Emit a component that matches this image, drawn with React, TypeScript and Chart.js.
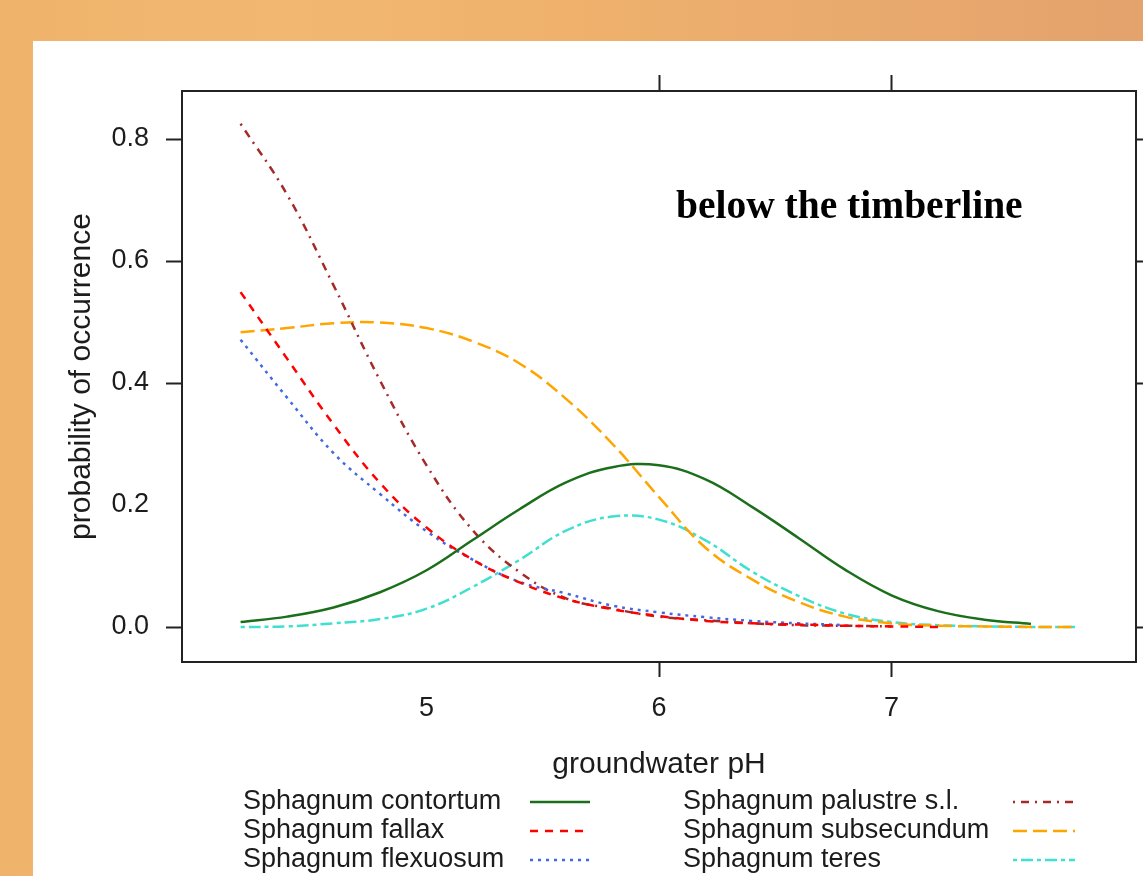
import { useEffect, useRef } from "react";
import { Chart, registerables } from "chart.js";

Chart.register(...registerables);

// ---- data ----
const phValues = [4.2, 4.4, 4.6, 4.8, 5.0, 5.2, 5.4, 5.6, 5.8, 6.0, 6.2, 6.4, 6.6, 6.8, 7.0, 7.2, 7.4, 7.6, 7.8];

const contortum = [0.008, 0.017, 0.032, 0.057, 0.093, 0.143, 0.193, 0.237, 0.262, 0.265, 0.242, 0.197, 0.146, 0.094, 0.052, 0.026, 0.012, 0.005, null];
const fallax = [0.549, 0.44, 0.332, 0.236, 0.163, 0.11, 0.073, 0.046, 0.029, 0.018, 0.01, 0.006, 0.004, 0.002, 0.001, 0, null, null, null];
const flexuosum = [0.471, 0.376, 0.285, 0.218, 0.157, 0.11, 0.074, 0.055, 0.035, 0.024, 0.016, 0.01, 0.006, 0.003, null, null, null, null, null];
const palustre = [0.825, 0.709, 0.56, 0.404, 0.265, 0.158, 0.09, 0.047, 0.03, 0.017, 0.011, 0.006, 0.003, 0.002, 0.001, null, null, null, null];
const subsecundum = [0.483, 0.49, 0.498, 0.499, 0.49, 0.468, 0.432, 0.374, 0.3, 0.213, 0.13, 0.078, 0.041, 0.017, 0.006, 0.002, 0.001, 0, 0];
const teres = [0, 0.001, 0.006, 0.013, 0.03, 0.066, 0.11, 0.158, 0.181, 0.176, 0.142, 0.091, 0.051, 0.022, 0.008, 0.003, 0.001, 0, 0];

const seriesLabels = [
  "Sphagnum contortum",
  "Sphagnum fallax",
  "Sphagnum flexuosum",
  "Sphagnum palustre s.l.",
  "Sphagnum subsecundum",
  "Sphagnum teres",
];

const xTicks = [5, 6, 7];
const yTicks = [0, 0.2, 0.4, 0.6, 0.8];
const xTickMarks = [6, 7];
const yTickMarks = [0, 0.4, 0.6, 0.8];

const xTitle = "groundwater pH";
const yTitle = "probability of occurrence";
const annotationText = "below the timberline";
const annotationX = 6.073;
const annotationY = 0.67;

// ---- styles ----
const FONT = "'Liberation Sans', Arial, sans-serif";
const TEXT = "#1c1c1c";
const colors = ["#1b6f1b", "#ff0000", "#4169e1", "#a52a2a", "#ffa500", "#40e0d0"];
const dashes: number[][] = [[], [8, 7], [3, 5], [2, 6, 8, 6], [14, 6], [4, 4, 12, 4]];

const seriesValues = [contortum, fallax, flexuosum, palustre, subsecundum, teres];

const framePlugin = {
  id: "frame",
  afterDraw(chart: any) {
    const { ctx, chartArea: a, scales } = chart;
    const xs = scales.x;
    const ys = scales.y;
    ctx.save();
    ctx.strokeStyle = "#222";
    ctx.lineWidth = 2;
    ctx.strokeRect(a.left, a.top, a.right - a.left, a.bottom - a.top);
    const tl = 16;
    ctx.beginPath();
    xTickMarks.forEach((v) => {
      const px = Math.round(xs.getPixelForValue(v)) + 0.5;
      ctx.moveTo(px, a.top);
      ctx.lineTo(px, a.top - tl);
      ctx.moveTo(px, a.bottom);
      ctx.lineTo(px, a.bottom + tl - 1);
    });
    yTickMarks.forEach((v) => {
      const py = Math.round(ys.getPixelForValue(v)) + 0.5;
      ctx.moveTo(a.left, py);
      ctx.lineTo(a.left - tl, py);
      ctx.moveTo(a.right, py);
      ctx.lineTo(a.right + tl, py);
    });
    ctx.stroke();

    // annotation
    ctx.fillStyle = "#000";
    ctx.font = "bold 39.5px 'Liberation Serif', 'Times New Roman', serif";
    ctx.textAlign = "left";
    ctx.textBaseline = "alphabetic";
    ctx.fillText(annotationText, xs.getPixelForValue(annotationX), ys.getPixelForValue(annotationY));

    // legend (two columns, text then line sample)
    ctx.font = `27px ${FONT}`;
    ctx.textBaseline = "middle";
    const colText = [243, 683];
    const colLine = [[530, 590], [1013, 1075]];
    const rowY = [802, 831, 860];
    chart.data.datasets.forEach((ds: any, i: number) => {
      const c = Math.floor(i / 3);
      const r = i % 3;
      ctx.fillStyle = TEXT;
      ctx.fillText(ds.label, colText[c], rowY[r]);
      ctx.strokeStyle = ds.borderColor;
      ctx.lineWidth = ds.borderWidth;
      ctx.setLineDash(ds.borderDash || []);
      ctx.beginPath();
      ctx.moveTo(colLine[c][0], rowY[r]);
      ctx.lineTo(colLine[c][1], rowY[r]);
      ctx.stroke();
      ctx.setLineDash([]);
    });
    ctx.restore();
  },
};

export default function App() {
  const ref = useRef<HTMLCanvasElement>(null);
  useEffect(() => {
    const datasets = seriesLabels.map((label, i) => ({
      label,
      data: phValues.map((x, j) => ({ x, y: seriesValues[i][j] })),
      borderColor: colors[i],
      backgroundColor: colors[i],
      borderWidth: 2.5,
      borderDash: dashes[i],
      pointRadius: 0,
      fill: false,
      tension: 0.4,
      spanGaps: false,
    }));
    const chart = new Chart(ref.current!, {
      type: "line",
      data: { datasets },
      options: {
        responsive: false,
        animation: false,
        devicePixelRatio: 1,
        layout: { padding: { left: 0, top: 91, right: 7, bottom: 0 } },
        plugins: { legend: { display: false }, tooltip: { enabled: false } },
        scales: {
          x: {
            type: "linear",
            position: "bottom",
            min: 3.948,
            max: 8.052,
            grid: { display: false, drawTicks: false },
            border: { display: false },
            afterBuildTicks: (s: any) => {
              s.ticks = xTicks.map((v) => ({ value: v }));
            },
            afterFit: (s: any) => {
              s.height = 214;
            },
            ticks: {
              autoSkip: false,
              maxRotation: 0,
              padding: 30,
              color: TEXT,
              font: { family: FONT, size: 27 },
              callback: (v: any) => String(v),
            },
            title: {
              display: true,
              text: xTitle,
              color: TEXT,
              font: { family: FONT, size: 30 },
              padding: { top: 0, bottom: 93 },
            },
          },
          y: {
            type: "linear",
            position: "left",
            min: -0.0574,
            max: 0.8787,
            grid: { display: false, drawTicks: false },
            border: { display: false },
            afterBuildTicks: (s: any) => {
              s.ticks = yTicks.map((v) => ({ value: v }));
            },
            afterFit: (s: any) => {
              s.width = 182;
            },
            ticks: {
              autoSkip: false,
              padding: 33,
              color: TEXT,
              font: { family: FONT, size: 27 },
              callback: (v: any) => Number(v).toFixed(1),
            },
            title: {
              display: true,
              text: yTitle,
              color: TEXT,
              font: { family: FONT, size: 30 },
              padding: { top: 64, bottom: 0 },
            },
          },
        },
      },
      plugins: [framePlugin],
    } as any);
    return () => chart.destroy();
  }, []);

  return (
    <div
      style={{
        position: "fixed",
        left: 0,
        top: 0,
        width: 1143,
        height: 876,
        overflow: "hidden",
        background: "linear-gradient(90deg, #efb36b 0%, #f2b872 25%, #efb16c 50%, #e9aa6e 75%, #e4a26c 100%)",
      }}
    >
      <div style={{ position: "absolute", left: 33, top: 41, right: 0, bottom: 0, background: "#ffffff" }} />
      <canvas
        ref={ref}
        width={1143}
        height={876}
        style={{ position: "absolute", left: 0, top: 0, width: 1143, height: 876 }}
      />
    </div>
  );
}
